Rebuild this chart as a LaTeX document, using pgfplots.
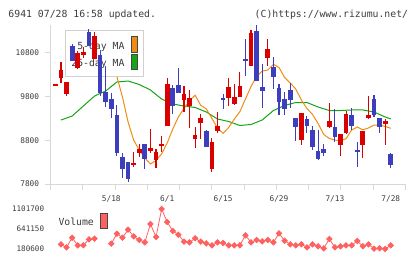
\documentclass[border=0pt]{standalone}
\usepackage{pgfplots}
\pgfplotsset{compat=1.18}
\usepackage{pgfplotstable}
\usepackage{fontspec}
\setmonofont{DejaVu Sans Mono}

\definecolor{upred}{RGB}{218,0,0}
\definecolor{downblue}{RGB}{60,62,190}
\definecolor{maorange}{RGB}{240,140,20}
\definecolor{magreen}{RGB}{20,165,20}
\definecolor{volred}{RGB}{255,96,96}
\definecolor{axisgray}{RGB}{216,216,216}
\definecolor{boxgray}{RGB}{208,208,208}
\definecolor{swatchedge}{RGB}{70,70,70}
\definecolor{txt}{RGB}{60,60,60}

\newcommand{\hdr}{\ttfamily\fontsize{9.8bp}{11bp}\selectfont}
\newcommand{\tck}{\ttfamily\fontsize{7.8bp}{9bp}\selectfont}
\newcommand{\vtck}{\ttfamily\fontsize{7.6bp}{9bp}\selectfont}

% daily candles: index, open, high, low, close
\pgfplotstableread{
i o h l c
0 10055 10075 10055 10075
1 10230 10580 10110 10400
2 9850 10140 9800 10130
4 10440 10840 10430 10800
5 10750 10940 10670 10815
7 10660 11280 10650 11190
14 8230 8530 8195 8285
15 8510 8715 8415 8600
17 8555 9055 8510 8620
18 8350 8595 8160 8530
19 8675 8895 8540 8715
20 9125 10220 9125 10085
23 9720 10040 9435 9855
24 9580 9950 9090 9760
25 8830 9095 8615 8920
26 9200 9400 8820 9315
28 8150 8850 8080 8755
29 9015 9445 8960 9125
31 9770 10220 9580 10010
32 9635 10080 9605 9790
33 9795 10365 9795 10040
35 10505 11320 10505 11245
38 10670 11110 10495 10885
44 8805 9420 8690 9420
49 9105 9645 9070 9240
51 8690 8945 8450 8945
52 8960 9475 8935 9400
55 8700 9010 8400 9010
56 9315 9810 9285 9375
59 9180 9285 8700 9240
}\upcandles

\pgfplotstableread{
i o h l c
3 10960 11010 10610 10620
6 11265 11340 10950 10960
8 10750 10860 9820 9890
9 9910 10500 9550 9670
10 9740 9880 9310 9525
11 9375 9595 8440 8515
12 8415 8500 7930 8135
13 8310 8310 7850 7915
16 8715 8715 8135 8360
21 9985 10060 9410 9590
22 10060 10450 9890 9890
27 9010 9035 8650 8650
30 9760 9850 9515 9720
34 10660 11110 10270 10605
36 11295 11430 10160 10160
37 10015 10550 9540 9930
39 10475 10710 9960 10250
40 9990 10085 9375 9680
41 9740 9900 9375 9515
42 9950 10110 9530 9720
43 9300 9300 8780 9110
45 9290 9360 8960 9130
46 9035 9125 8575 8640
47 8555 9035 8350 8360
48 8600 8710 8435 8515
50 9100 9505 8750 8880
53 9375 9530 9035 9125
54 8575 8760 8195 8540
57 9740 9835 9330 9380
58 9300 9300 8960 9110
60 8485 8515 8170 8235
}\downcandles

\pgfplotsset{
  pricebase/.style={
    scale only axis, width=354.6bp, height=159bp,
    at={(50.7bp,-184bp)}, anchor=south west,
    xmin=-0.841, xmax=62.596, ymin=7800, ymax=11433,
    scaled ticks=false, clip=false},
  wick/.style={draw=none, mark=none,
    error bars/.cd, y dir=both, y explicit, error mark=none,
    error bar style={draw=#1, line width=1.1bp}},
  body/.style={draw=none, mark=none,
    error bars/.cd, y dir=both, y explicit, error mark=none,
    error bar style={draw=#1, line width=4.7bp, line cap=butt}},
}

\begin{document}
\begin{tikzpicture}
\path[use as bounding box] (0,0) rectangle (420bp,-259bp);

% header line
\node[anchor=base west, inner sep=0pt, font=\hdr, text=txt] at (8.3bp,-17.3bp) {6941 07/28 16:58 updated.};
\node[anchor=base east, inner sep=0pt, font=\hdr, text=txt] at (408.3bp,-17.3bp) {(C)https://www.rizumu.net/};

% price panel: frame, ticks and moving averages
\begin{axis}[pricebase,
  axis x line=bottom, axis y line=left,
  axis line style={draw=axisgray, line width=1bp, -},
  tick style={draw=axisgray, line width=1bp},
  tick align=outside, major tick length=6bp,
  xtick={-0.841,4.926,10.693,16.46,22.227,27.994,33.761,39.528,45.295,51.062,56.829,62.596},
  xticklabels={},
  ytick={7800,8800,9800,10800}, yticklabels={}]
  \addplot[magreen, line width=1bp] coordinates {
    (1,9262) (3,9353) (5,9582) (7,9810) (9,9925) (11,10131) (13,10153)
    (15,10074) (17,9948) (19,9742) (21,9628) (23,9582) (25,9548) (27,9445)
    (29,9285) (31,9228) (33,9137) (35,9160) (37,9262) (39,9479) (41,9594)
    (43,9662) (45,9662) (47,9559) (49,9479) (51,9479) (53,9491) (55,9491)
    (57,9445) (59,9331) (60,9285)};
  \addplot[maorange, line width=1bp] coordinates {
    (4,10679) (5,10748) (6,10862) (7,10908) (8,10816) (9,10702) (10,10496)
    (11,10252) (12,9788) (13,9217) (14,8805) (15,8577) (16,8394) (17,8257)
    (18,8337) (19,8486) (20,8737) (21,9057) (22,9331) (23,9525) (24,9708)
    (25,9827) (26,9598) (27,9514) (28,9297) (29,9080) (30,8958) (31,9091)
    (32,9285) (33,9452) (34,9742) (35,10028) (36,10256) (37,10382) (38,10405)
    (39,10535) (40,10462) (41,10234) (42,10108) (43,9971) (44,9719) (45,9525)
    (46,9388) (47,9182) (48,8931) (49,8840) (50,8805) (51,8787) (52,8835)
    (53,9034) (54,9102) (55,9038) (56,9080) (57,9148) (58,9148) (59,9114)
    (60,9073)};
  % price labels
  \node[anchor=east, inner sep=0pt, xshift=-11.4bp, font=\tck, text=txt] at (axis cs:-0.841,10800) {10800};
  \node[anchor=east, inner sep=0pt, xshift=-11.4bp, font=\tck, text=txt] at (axis cs:-0.841,9800) {9800};
  \node[anchor=east, inner sep=0pt, xshift=-11.4bp, font=\tck, text=txt] at (axis cs:-0.841,8800) {8800};
  \node[anchor=east, inner sep=0pt, xshift=-11.4bp, font=\tck, text=txt] at (axis cs:-0.841,7800) {7800};
  % date labels
  \node[anchor=base, inner sep=0pt, yshift=-17.5bp, font=\tck, text=txt] at (axis cs:10,7800) {5/18};
  \node[anchor=base, inner sep=0pt, yshift=-17.5bp, font=\tck, text=txt] at (axis cs:20,7800) {6/1};
  \node[anchor=base, inner sep=0pt, yshift=-17.5bp, font=\tck, text=txt] at (axis cs:30,7800) {6/15};
  \node[anchor=base, inner sep=0pt, yshift=-17.5bp, font=\tck, text=txt] at (axis cs:40,7800) {6/29};
  \node[anchor=base, inner sep=0pt, yshift=-17.5bp, font=\tck, text=txt] at (axis cs:50,7800) {7/13};
  \node[anchor=base, inner sep=0pt, yshift=-17.5bp, font=\tck, text=txt] at (axis cs:60,7800) {7/28};
\end{axis}

% legend of the moving averages
\filldraw[fill=white, draw=boxgray, line width=1bp] (65.7bp,-30bp) rectangle (143.3bp,-76.7bp);
\node[anchor=base east, inner sep=0pt, font=\hdr, text=txt] at (124.7bp,-49.5bp) {5-day MA};
\node[anchor=base east, inner sep=0pt, font=\hdr, text=txt] at (124.7bp,-66bp) {25-day MA};
\filldraw[fill=maorange, draw=swatchedge, line width=0.9bp] (131bp,-36.7bp) rectangle (137.7bp,-52.7bp);
\filldraw[fill=magreen, draw=swatchedge, line width=0.9bp] (131bp,-54bp) rectangle (137.7bp,-69bp);

% candles on top
\begin{axis}[pricebase, hide axis]
  \addplot[wick=upred] table[x=i, y expr={(\thisrow{h}+\thisrow{l})/2}, y error expr={(\thisrow{h}-\thisrow{l})/2}] {\upcandles};
  \addplot[wick=downblue] table[x=i, y expr={(\thisrow{h}+\thisrow{l})/2}, y error expr={(\thisrow{h}-\thisrow{l})/2}] {\downcandles};
  \addplot[body=upred] table[x=i, y expr={(\thisrow{o}+\thisrow{c})/2}, y error expr={abs(\thisrow{c}-\thisrow{o})/2}] {\upcandles};
  \addplot[body=downblue] table[x=i, y expr={(\thisrow{o}+\thisrow{c})/2}, y error expr={abs(\thisrow{c}-\thisrow{o})/2}] {\downcandles};
\end{axis}

% volume panel
\begin{axis}[scale only axis, width=354.6bp, height=40bp,
  at={(50.7bp,-249bp)}, anchor=south west,
  xmin=-0.841, xmax=62.596, ymin=180600, ymax=1101700,
  scaled ticks=false, hide axis, clip=false]
  \addplot[volred, line width=0.8bp, mark=square*, mark size=1.9bp,
    mark options={rotate=45, fill=volred, draw=volred}] coordinates {
    (1,288000) (2,219000) (3,441000) (4,265000) (5,265000) (6,403000) (7,418000)};
  \addplot[volred, line width=0.8bp, mark=square*, mark size=1.9bp,
    mark options={rotate=45, fill=volred, draw=volred}] coordinates {
    (10,303000) (11,534000) (12,441000) (13,626000) (14,472000) (15,388000)
    (16,334000) (17,756000) (18,457000) (19,1101700) (20,802000) (21,595000)
    (22,511000) (23,349000) (24,334000) (25,426000) (26,349000) (27,311000)
    (28,265000) (29,334000) (30,319000) (31,265000) (32,265000) (33,265000)
    (34,495000) (35,334000) (36,388000) (37,357000) (38,388000) (39,334000)
    (40,541000) (41,372000) (42,288000) (43,265000) (44,288000) (45,219000)
    (46,288000) (47,242000) (48,196000) (49,411000) (50,219000) (51,242000)
    (52,265000) (53,265000) (54,365000) (55,242000) (56,288000) (57,190000)
    (58,196000) (59,180600) (60,265000)};
\end{axis}

\node[anchor=east, inner sep=0pt, font=\vtck, text=txt] at (44.3bp,-209bp) {1101700};
\node[anchor=east, inner sep=0pt, font=\vtck, text=txt] at (44.3bp,-229bp) {641150};
\node[anchor=east, inner sep=0pt, font=\vtck, text=txt] at (44.3bp,-248.3bp) {180600};

% volume legend
\node[anchor=base west, inner sep=0pt, font=\hdr, text=txt] at (58.3bp,-225.7bp) {Volume};
\filldraw[fill=volred, draw=swatchedge, line width=0.9bp] (100.7bp,-213.3bp) rectangle (107.7bp,-228.3bp);
\end{tikzpicture}
\end{document}
